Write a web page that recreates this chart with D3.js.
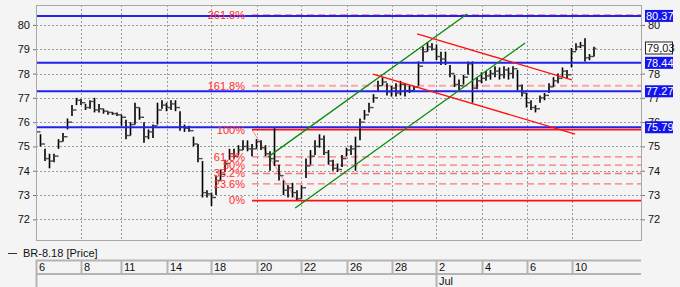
<!DOCTYPE html>
<html>
<head>
<meta charset="utf-8">
<script src="https://cdnjs.cloudflare.com/ajax/libs/d3/7.8.5/d3.min.js"></script>
<style>
html, body { margin: 0; padding: 0; background: #f4f4f4; }
svg { display: block; font-family: Arial, "Liberation Sans", sans-serif; }
</style>
</head>
<body>
<div id="chart"></div>
<script>
// hourly bars, one entry per bar
var highs = [
75.95,75.5,74.9,74.7,74.7,75.3,75.55,76.15,76.7,77.0,
76.95,76.75,76.9,77.0,76.75,76.55,76.45,76.42,76.4,76.3,
76.1,76.0,76.8,76.6,76.0,75.7,75.9,76.8,76.9,76.8,
76.9,76.9,76.45,75.9,75.85,75.4,75.1,74.4,73.2,73.1,
73.8,74.05,74.45,74.9,74.9,75.05,75.25,75.25,75.1,75.3,
75.25,75.05,74.8,75.75,74.25,73.6,73.4,73.5,73.2,73.4,
74.5,74.85,75.25,75.5,75.45,74.85,74.45,74.3,74.65,74.95,
75.05,75.4,76.15,76.5,76.8,77.15,77.7,77.85,77.6,77.5,
77.6,77.7,77.6,77.5,77.5,78.5,79.1,79.3,79.25,79.2,
78.9,78.9,78.35,77.95,77.75,77.95,78.5,78.5,77.85,78.05,
78.1,78.15,78.3,78.25,78.3,78.25,78.3,78.15,77.55,77.2,
76.9,76.7,77.1,77.2,77.6,77.85,78.0,78.25,78.15,79.05,
79.25,79.3,79.45,78.8,79.1];
var lows = [
75.45,75.0,74.4,74.1,74.35,74.9,75.2,75.7,76.25,76.7,
76.7,76.5,76.55,76.4,76.4,76.35,76.3,76.3,76.25,75.85,
75.3,75.45,75.9,76.1,75.15,75.3,75.35,75.9,76.55,76.45,
76.5,76.45,75.65,75.6,75.6,75.0,74.35,72.9,72.9,72.55,
73.0,73.6,73.95,74.45,74.5,74.65,74.85,74.8,74.6,74.9,
74.85,74.6,74.0,74.2,73.6,73.0,72.9,72.9,72.8,72.85,
73.7,74.25,74.65,74.95,74.65,74.25,74.0,73.95,74.15,74.6,
74.65,74.0,75.25,76.1,76.4,76.8,77.25,77.5,77.1,77.05,
77.05,77.1,77.05,77.2,77.3,77.5,78.5,78.9,78.95,78.55,
78.35,78.35,77.85,77.45,77.3,77.55,77.95,76.8,77.35,77.6,
77.7,77.75,77.85,77.75,77.8,77.75,77.8,77.3,77.05,76.6,
76.5,76.4,76.8,76.9,77.2,77.45,77.6,77.85,77.8,78.25,
78.95,79.05,78.5,78.55,78.7];
var closes = [
75.6,75.1,74.5,74.4,74.6,75.2,75.4,76.0,76.5,76.9,
76.8,76.6,76.85,76.5,76.55,76.45,76.4,76.35,76.3,76.2,
75.45,75.9,76.6,76.2,75.4,75.6,75.85,76.5,76.7,76.6,
76.75,76.6,75.8,75.75,75.65,75.1,74.5,73.1,73.05,72.9,
73.6,73.85,74.3,74.7,74.6,74.85,75.0,74.9,74.9,75.2,
74.95,74.7,74.5,74.4,73.8,73.2,73.3,73.1,72.85,73.3,
74.2,74.6,75.0,75.3,74.75,74.4,74.1,74.05,74.5,74.85,
74.9,75.0,76.0,76.3,76.6,77.0,77.5,77.65,77.25,77.4,
77.2,77.55,77.3,77.3,77.45,78.3,78.9,79.1,79.0,78.7,
78.6,78.45,78.0,77.55,77.5,77.85,78.4,77.4,77.7,77.8,
77.9,78.0,78.1,77.95,78.15,78.0,78.2,77.5,77.2,76.8,
76.6,76.55,77.0,77.1,77.45,77.7,77.8,78.1,77.95,78.9,
79.1,79.15,78.65,78.7,79.03];

var dayTicks = [0, 10, 19, 29, 39, 49, 59, 69, 79, 89, 99, 109, 119];
var dayLabels = ['6', '8', '11', '14', '18', '20', '22', '26', '28', '2', '4', '6', '10'];
var monthTicks = [0, 89];
var monthLabels = ['', 'Jul'];
var priceTicks = [72, 73, 74, 75, 76, 77, 78, 79, 80];
var rightTicks = [72, 73, 74, 75, 76, 77, 78, 80];   // 79 sits under the last price tag

var levels = [80.37, 78.44, 77.27, 75.79];
var lastPrice = 79.03;

var fibRatios = [0, 0.236, 0.382, 0.5, 0.618, 1, 1.618, 2.618];
var fibLabels = ['0%', '23.6%', '38.2%', '50%', '61.8%', '100%', '161.8%', '261.8%'];
var fibAnchor = [48, 75.69, 58, 72.77];   // bar, price (100%) -> bar, price (0%)

// [bar1, price1, bar2, price2]
var greenLines = [[51.6, 74.57, 95.8, 80.45], [57.6, 72.47, 108.7, 79.26]];
var redLines = [[84.7, 79.63, 119.1, 77.74], [74.9, 77.98, 119.8, 75.51]];

var
W = 680, H = 287,
PL = 36, PR = 641, PT = 5, PB = 240;

var svg = d3.select('#chart').append('svg')
	.attr('width', W)
	.attr('height', H);

var x = d3.scaleLinear().domain([0, (PR - PL) / 4.5]).range([PL, PR]);
var y = d3.scaleLinear().domain([71.15, 80.82]).range([PB, PT]);

svg.append('clipPath').attr('id', 'plotClip')
	.append('rect')
	.attr('x', PL).attr('y', PT)
	.attr('width', PR - PL).attr('height', PB - PT);

// grid
var grid = svg.append('g').attr('stroke', '#9a9a9a').attr('stroke-dasharray', '2,2');
grid.selectAll('.hg').data(priceTicks).enter().append('line')
	.attr('x1', PL).attr('x2', PR)
	.attr('y1', function(d) { return Math.round(y(d)) + 0.5; })
	.attr('y2', function(d) { return Math.round(y(d)) + 0.5; });
grid.selectAll('.vg').data(dayTicks.slice(1)).enter().append('line')
	.attr('y1', PT).attr('y2', PB)
	.attr('x1', function(d) { return Math.round(x(d)) + 0.5; })
	.attr('x2', function(d) { return Math.round(x(d)) + 0.5; });

var plot = svg.append('g').attr('clip-path', 'url(#plotClip)');

// fibonacci
var fibLow = fibAnchor[3], fibRange = fibAnchor[1] - fibAnchor[3];
var fibX = x(fibAnchor[0]);
plot.append('line')
	.attr('x1', x(fibAnchor[0])).attr('y1', y(fibAnchor[1]))
	.attr('x2', x(fibAnchor[2])).attr('y2', y(fibAnchor[3]))
	.attr('stroke', '#ff8a8a').attr('stroke-width', 1);
plot.selectAll('.fib').data(fibRatios).enter().append('line')
	.attr('x1', fibX).attr('x2', PR)
	.attr('y1', function(d) { return y(fibLow + d * fibRange); })
	.attr('y2', function(d) { return y(fibLow + d * fibRange); })
	.attr('stroke', function(d) { return (d === 0 || d === 1) ? '#ff1010' : '#ff7474'; })
	.attr('stroke-width', function(d) { return (d === 0 || d === 1) ? 1.6 : (d === 1.618 ? 2 : 1.3); })
	.attr('stroke-dasharray', function(d) { return (d === 0 || d === 1) ? null : '7,4'; })
	.attr('opacity', function(d) { return d === 1.618 ? 0.6 : 1; });

// price bars
var bars = plot.append('g');
bars.selectAll('.hl').data(highs).enter().append('line')
	.attr('x1', function(d, i) { return x(i); })
	.attr('x2', function(d, i) { return x(i); })
	.attr('y1', function(d) { return y(d); })
	.attr('y2', function(d, i) { return y(lows[i]); })
	.attr('stroke', '#000').attr('stroke-width', 1.6);
bars.selectAll('.op').data(closes).enter().append('line')
	.attr('x1', function(d, i) { return x(i) - 2.3; })
	.attr('x2', function(d, i) { return x(i); })
	.attr('y1', function(d, i) { return y(i > 0 ? closes[i - 1] : d); })
	.attr('y2', function(d, i) { return y(i > 0 ? closes[i - 1] : d); })
	.attr('stroke', '#444').attr('stroke-width', 1.4);
bars.selectAll('.cl').data(closes).enter().append('line')
	.attr('x1', function(d, i) { return x(i); })
	.attr('x2', function(d, i) { return x(i) + 2.3; })
	.attr('y1', function(d) { return y(d); })
	.attr('y2', function(d) { return y(d); })
	.attr('stroke', '#444').attr('stroke-width', 1.4);

// support / resistance
plot.selectAll('.lvl').data(levels).enter().append('line')
	.attr('x1', PL).attr('x2', PR)
	.attr('y1', function(d) { return y(d); })
	.attr('y2', function(d) { return y(d); })
	.attr('stroke', '#2222ee').attr('stroke-width', 2);

// channels
function trend(data, color) {
	plot.selectAll(null).data(data).enter().append('line')
		.attr('x1', function(d) { return x(d[0]); })
		.attr('y1', function(d) { return y(d[1]); })
		.attr('x2', function(d) { return x(d[2]); })
		.attr('y2', function(d) { return y(d[3]); })
		.attr('stroke', color).attr('stroke-width', 1.3);
}
trend(greenLines, '#0a8a0a');
trend(redLines, '#ff1010');

// fib labels
svg.append('g').selectAll('text').data(fibRatios).enter().append('text')
	.attr('x', fibX - 7)
	.attr('y', function(d) { return y(fibLow + d * fibRange); })
	.attr('dy', '0.35em')
	.attr('text-anchor', 'end')
	.attr('fill', '#ff2a2a')
	.style('font-size', '11px')
	.text(function(d, i) { return fibLabels[i]; });

// frame
svg.append('rect')
	.attr('x', PL + 0.5).attr('y', PT + 0.5)
	.attr('width', PR - PL).attr('height', PB - PT)
	.attr('fill', 'none').attr('stroke', '#a8a8a8');

// price axes
svg.append('g')
	.attr('transform', 'translate(' + PL + ',0)')
	.call(d3.axisLeft(y).tickValues(priceTicks).tickSize(3).tickPadding(3));
svg.append('g')
	.attr('transform', 'translate(' + (PR + 1) + ',0)')
	.call(d3.axisRight(y).tickValues(rightTicks).tickSize(3).tickPadding(3));
svg.selectAll('.domain').remove();
svg.selectAll('.tick line').attr('stroke', '#777');
svg.selectAll('.tick text').attr('fill', '#111').style('font-size', '11px').style('font-family', 'Arial, "Liberation Sans", sans-serif');

// level tags
var tags = svg.append('g');
tags.selectAll('rect').data(levels).enter().append('rect')
	.attr('x', PR + 4).attr('width', 28)
	.attr('y', function(d) { return y(d) - 6; })
	.attr('height', 12)
	.attr('fill', '#1414ee');
tags.selectAll('text').data(levels).enter().append('text')
	.attr('x', PR + 5)
	.attr('y', function(d) { return y(d); })
	.attr('dy', '0.36em')
	.attr('fill', '#fff')
	.style('font-size', '11px')
	.text(function(d) { return d.toFixed(2); });
tags.append('rect')
	.attr('x', PR + 4.5).attr('width', 27)
	.attr('y', y(lastPrice) - 6.5).attr('height', 12)
	.attr('fill', '#fff').attr('stroke', '#222');
tags.append('text')
	.attr('x', PR + 6)
	.attr('y', y(lastPrice))
	.attr('dy', '0.36em')
	.attr('fill', '#111')
	.style('font-size', '11px')
	.text(lastPrice.toFixed(2).replace('.', ','));

// legend
svg.append('line')
	.attr('x1', 8).attr('x2', 17).attr('y1', 253.5).attr('y2', 253.5)
	.attr('stroke', '#333');
svg.append('text')
	.attr('x', 23).attr('y', 257)
	.attr('fill', '#111')
	.style('font-size', '11px')
	.text('BR-8.18 [Price]');

// time axis
var tAxis = svg.append('g').attr('stroke', '#b4b4b4');
tAxis.append('line').attr('x1', PL).attr('x2', PR).attr('y1', 260.5).attr('y2', 260.5).attr('stroke-width', 2);
tAxis.append('line').attr('x1', PL).attr('x2', PR).attr('y1', 274).attr('y2', 274).attr('stroke-width', 2);
tAxis.selectAll('.dt').data(dayTicks).enter().append('line')
	.attr('x1', function(d) { return Math.round(x(d)) + 0.5; })
	.attr('x2', function(d) { return Math.round(x(d)) + 0.5; })
	.attr('y1', 260).attr('y2', 274)
	.attr('stroke-width', 2);
tAxis.selectAll('.mt').data(monthTicks).enter().append('line')
	.attr('x1', function(d) { return Math.round(x(d)) + 0.5; })
	.attr('x2', function(d) { return Math.round(x(d)) + 0.5; })
	.attr('y1', 274).attr('y2', H)
	.attr('stroke-width', 2);

svg.append('g').selectAll('text').data(dayTicks).enter().append('text')
	.attr('x', function(d) { return Math.round(x(d)) + 3; })
	.attr('y', 271)
	.attr('fill', '#111')
	.style('font-size', '11px')
	.text(function(d, i) { return dayLabels[i]; });
svg.append('g').selectAll('text').data(monthTicks).enter().append('text')
	.attr('x', function(d) { return Math.round(x(d)) + 3; })
	.attr('y', 285)
	.attr('fill', '#111')
	.style('font-size', '11px')
	.text(function(d, i) { return monthLabels[i]; });
</script>
</body>
</html>
